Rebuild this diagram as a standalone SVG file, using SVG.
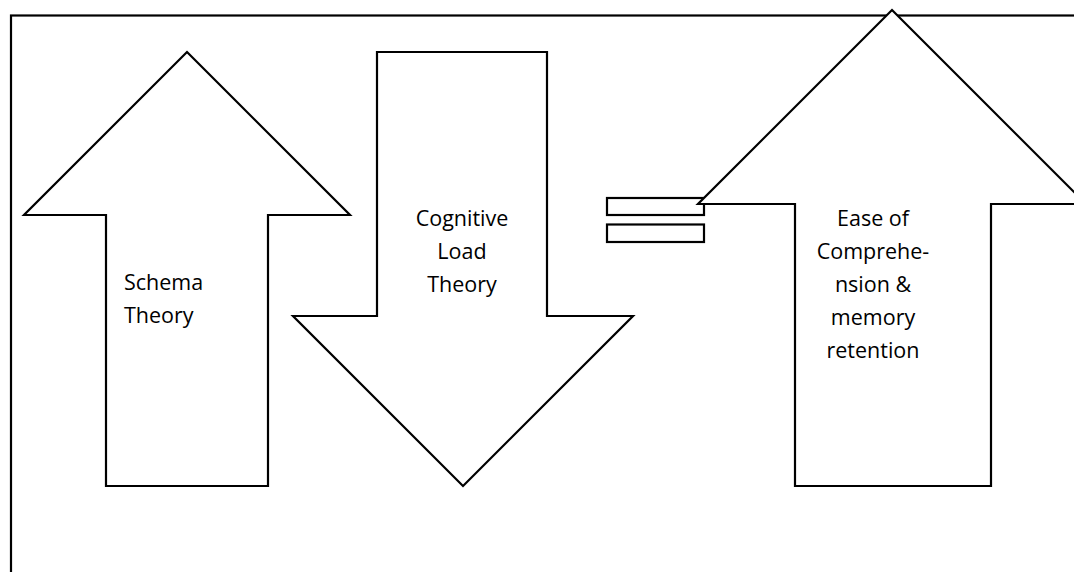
<svg xmlns="http://www.w3.org/2000/svg" width="1074" height="572" viewBox="0 0 1074 572">
<style>
.s{fill:#fff;stroke:#000;stroke-width:2.2;stroke-linejoin:miter}
.t{font-family:"Open Sans","Liberation Sans",sans-serif;font-size:21.5px;fill:#000}
.c{text-anchor:middle}
</style>
<rect x="0" y="0" width="1074" height="572" fill="#fff"/>
<rect id="frame" x="11" y="15.5" width="1100" height="600" fill="none" stroke="#000" stroke-width="2.2"/>
<g id="schema">
<polygon class="s" points="187,52 350,215 268,215 268,486 106,486 106,215 24,215"/>
<text class="t" x="124" y="290">Schema</text>
<text class="t" x="124" y="323">Theory</text>
</g>
<g id="cognitive">
<polygon class="s" points="377,52 547,52 547,316 633,316 463,486 293,316 377,316"/>
<text class="t c" x="462" y="226">Cognitive</text>
<text class="t c" x="462" y="259">Load</text>
<text class="t c" x="462" y="292">Theory</text>
</g>
<g id="equals">
<rect class="s" x="607" y="198" width="97" height="17"/>
<rect class="s" x="607" y="224.5" width="97" height="17.5"/>
</g>
<g id="ease">
<polygon class="s" points="892,10 1086,204 991,204 991,486 795,486 795,204 698,204"/>
<text class="t c" x="873" y="226">Ease of</text>
<text class="t c" x="873" y="259">Comprehe-</text>
<text class="t c" x="873" y="292">nsion &amp;</text>
<text class="t c" x="873" y="325">memory</text>
<text class="t c" x="873" y="358">retention</text>
</g>
<g id="connectors"></g>
</svg>
